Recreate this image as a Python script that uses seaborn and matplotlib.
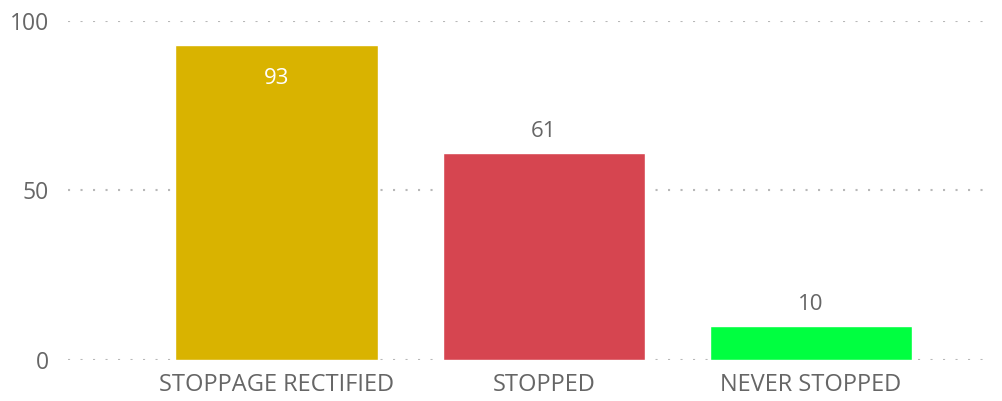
import matplotlib
matplotlib.use('Agg')

import matplotlib.pyplot as plt
import seaborn as sns
import pandas as pd

categories = ['STOPPAGE RECTIFIED', 'STOPPED', 'NEVER STOPPED']
counts = [93, 61, 10]
bar_colors = ['#D9B300', '#D64550', '#00FF40']
y_ticks = [0, 50, 100]

df = pd.DataFrame({'status': categories, 'count': counts})

sns.set_style('white')
plt.rcParams['font.family'] = ['Open Sans', 'DejaVu Sans']

fig = plt.figure(figsize=(10.03, 4.01), dpi=100, facecolor='white')
ax = fig.add_axes([0.068, 0.102, 0.919, 0.846])

sns.barplot(data=df, x='status', y='count', hue='status', palette=bar_colors,
            width=0.757, legend=False, ax=ax, saturation=1)

ax.set_ylim(0, 100)
ax.set_xlim(-0.78, 2.67)
ax.set_yticks(y_ticks)
ax.yaxis.grid(True, color='#b8b8b8', linestyle=(0, (1, 5)), linewidth=1.5)
ax.set_axisbelow(True)
for s in ax.spines.values():
    s.set_visible(False)

ax.tick_params(axis='y', length=0, labelsize=16.5, labelcolor='#666666', pad=14)
ax.tick_params(axis='x', length=0, labelsize=17, labelcolor='#666666', pad=9)
ax.set_xlabel('')
ax.set_ylabel('')

# value labels: inside the top for tall bars, above otherwise
for i, v in enumerate(counts):
    if v > 80:
        ax.annotate(str(v), (i, v), xytext=(0, -17), textcoords='offset points',
                    ha='center', va='top', color='white', fontsize=16)
    else:
        ax.annotate(str(v), (i, v), xytext=(0, 8), textcoords='offset points',
                    ha='center', va='bottom', color='#666666', fontsize=16)

plt.savefig('out.png', dpi=100, facecolor='white')
plt.close()
